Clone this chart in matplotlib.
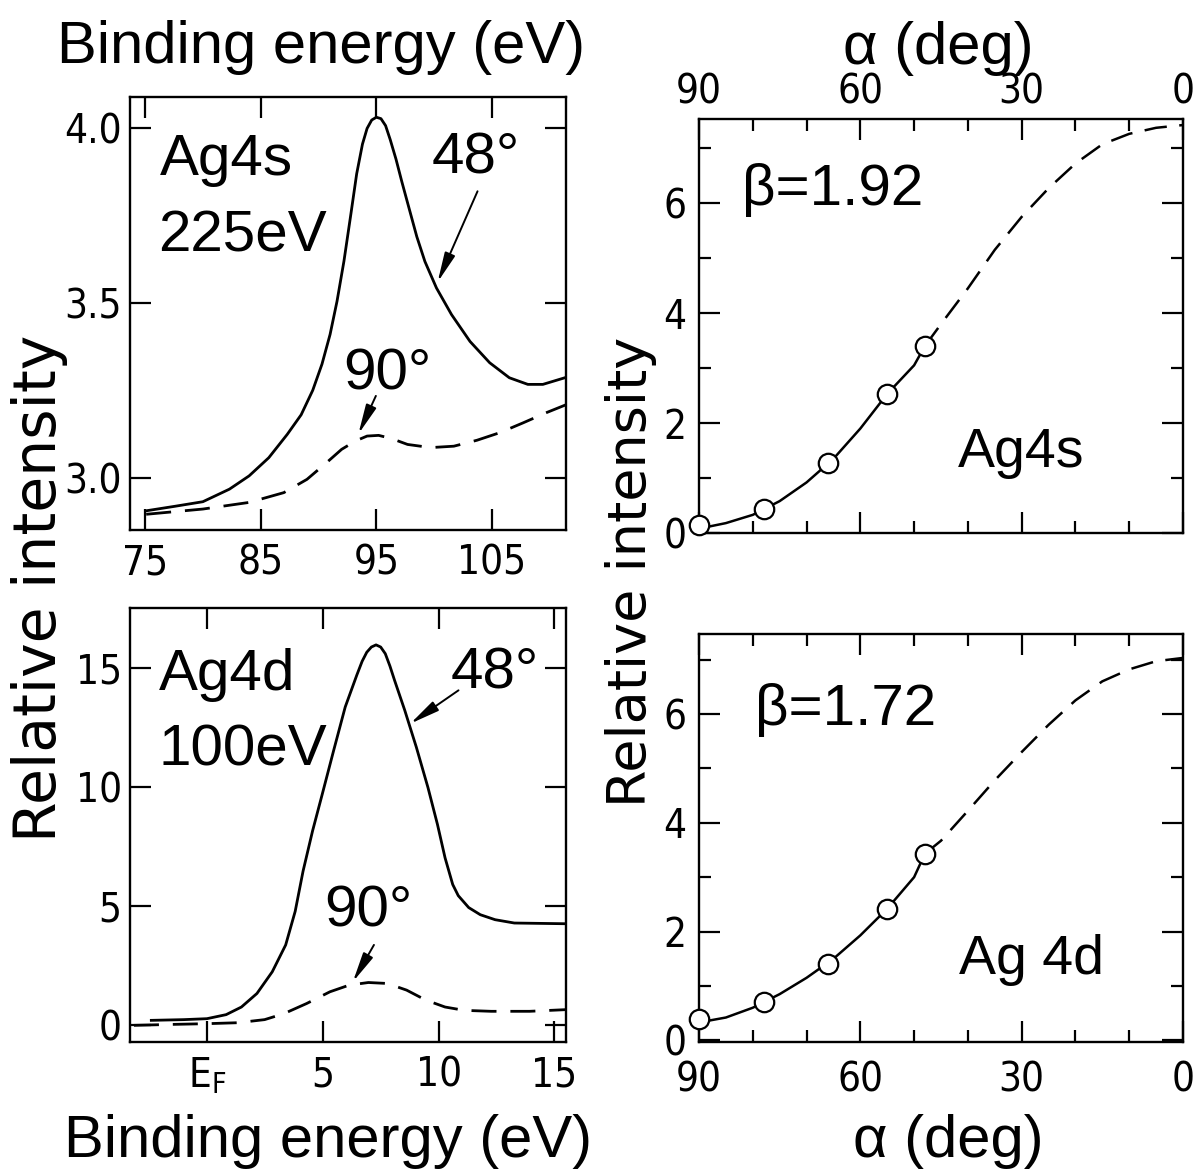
import matplotlib
matplotlib.use('Agg')
import matplotlib.pyplot as plt
from matplotlib.ticker import FixedLocator

plt.rcParams['font.family'] = ['DejaVu Sans']
plt.rcParams['font.stretch'] = 'condensed'

# ---------------- data ----------------
# Ag 4s spectra, 225 eV
be_4s_48 = [75.1, 77.6, 80.0, 82.3, 84.0, 85.7, 87.3, 88.5, 89.5, 90.3, 91.0, 91.6, 92.2,
            92.8, 93.3, 93.8, 94.2, 94.6, 95.0, 95.4, 95.8, 96.2, 96.7, 97.2, 97.8, 98.5,
            99.2, 100.2, 101.5, 103.1, 104.8, 106.5, 108.1, 109.4, 111.3]
int_4s_48 = [2.905, 2.918, 2.931, 2.967, 3.005, 3.057, 3.124, 3.18, 3.25, 3.325, 3.41, 3.505,
             3.62, 3.755, 3.87, 3.955, 4.0, 4.024, 4.032, 4.028, 4.008, 3.968, 3.912, 3.848,
             3.775, 3.69, 3.619, 3.543, 3.467, 3.39, 3.329, 3.286, 3.267, 3.267, 3.286]
be_4s_90 = [75.1, 80.0, 84.0, 87.0, 89.0, 90.7, 92.0, 93.2, 94.2, 95.2, 96.3, 97.7, 99.7,
            101.7, 103.7, 105.7, 107.7, 109.7, 111.5]
int_4s_90 = [2.895, 2.91, 2.929, 2.957, 2.995, 3.043, 3.081, 3.105, 3.119, 3.121, 3.112, 3.095,
             3.086, 3.09, 3.107, 3.129, 3.157, 3.186, 3.21]

# Ag 4d spectra, 100 eV
be_4d_48 = [-2.4, -1.0, 0.0, 0.83, 1.49, 2.16, 2.82, 3.4, 3.81, 4.15, 4.56, 4.98, 5.47, 5.97,
            6.47, 6.7, 6.9, 7.1, 7.3, 7.5, 7.7, 7.9, 8.1, 8.54, 9.04, 9.54, 9.95, 10.28,
            10.61, 10.85, 11.3, 11.8, 12.44, 13.27, 15.5]
int_4d_48 = [0.21, 0.24, 0.28, 0.45, 0.77, 1.34, 2.25, 3.38, 4.79, 6.48, 8.17, 9.72, 11.55,
             13.38, 14.72, 15.3, 15.68, 15.9, 15.99, 15.9, 15.62, 15.1, 14.5, 13.24, 11.69,
             10.0, 8.45, 7.04, 5.92, 5.45, 4.95, 4.65, 4.44, 4.30, 4.27]
be_4d_90 = [-3.15, -1.49, 0.0, 1.33, 2.49, 3.32, 4.31, 5.31, 6.14, 6.97, 7.79, 8.62, 9.45,
            10.28, 11.11, 12.27, 13.93, 15.5]
int_4d_90 = [0.0, 0.04, 0.07, 0.11, 0.24, 0.49, 0.92, 1.41, 1.69, 1.80, 1.76, 1.48, 1.06,
             0.77, 0.63, 0.59, 0.59, 0.66]

# angular dependence
alpha_pts = [90, 78, 66, 55, 48]
i4s_pts = [0.14, 0.43, 1.27, 2.53, 3.40]
i4d_pts = [0.40, 0.71, 1.41, 2.42, 3.43]

alpha_fit_solid = [90, 85, 80, 75, 70, 65, 60, 55, 50, 48]
i4s_fit_solid = [0.08, 0.18, 0.33, 0.58, 0.92, 1.35, 1.90, 2.53, 3.05, 3.40]
i4d_fit_solid = [0.33, 0.42, 0.60, 0.85, 1.15, 1.50, 1.93, 2.42, 3.00, 3.43]
alpha_fit_dash = [48, 45, 40, 35, 30, 25, 20, 15, 10, 5, 0]
i4s_fit_dash = [3.40, 3.80, 4.45, 5.15, 5.75, 6.27, 6.72, 7.07, 7.26, 7.37, 7.42]
i4d_fit_dash = [3.43, 3.67, 4.22, 4.78, 5.30, 5.80, 6.25, 6.60, 6.82, 6.97, 7.03]

xt_4s = [75, 85, 95, 105]
xt_4s_lab = ['75', '85', '95', '105']
yt_4s = [3.0, 3.5, 4.0]
yt_4s_lab = ['3.0', '3.5', '4.0']
xt_4d = [0, 5, 10, 15]
xt_4d_lab = [r'$\mathregular{E_F}$', '5', '10', '15']
yt_4d = [0, 5, 10, 15]
yt_4d_lab = ['0', '5', '10', '15']
xt_ang = [90, 60, 30, 0]
xt_ang_lab = ['90', '60', '30', '0']
yt_ang = [0, 2, 4, 6]
yt_ang_lab = ['0', '2', '4', '6']

# ---------------- figure ----------------
W, H = 1197, 1170
fig = plt.figure(figsize=(W / 100, H / 100), dpi=100)
fig.patch.set_facecolor('white')


def px_axes(x0, y0, x1, y1):
    return fig.add_axes([x0 / W, 1 - y1 / H, (x1 - x0) / W, (y1 - y0) / H])


ax1 = px_axes(130, 97, 566, 530)
ax2 = px_axes(130, 608, 566, 1042)
ax3 = px_axes(699, 119, 1183, 533)
ax4 = px_axes(699, 634, 1183, 1042)

BIG = dict(family='Liberation Sans', stretch='normal')
LW = 2.0
DASH = (0, (9, 5))
TICKFS = 29

for ax in (ax1, ax2, ax3, ax4):
    for s in ax.spines.values():
        s.set_linewidth(1.7)
    ax.tick_params(which='both', direction='in', top=True, right=True, width=1.6,
                   labelsize=TICKFS)
    ax.tick_params(which='major', length=15)
    ax.tick_params(which='minor', length=8.5)

arrow = dict(arrowstyle='-|>,head_length=1.8,head_width=0.33', color='k', lw=1.4,
             shrinkA=0, shrinkB=0)

# ---- top-left: Ag 4s spectra ----
ax1.plot(be_4s_48, int_4s_48, color='k', lw=LW)
ax1.plot(be_4s_90, int_4s_90, color='k', lw=LW, linestyle=DASH)
ax1.set_xlim(73.7, 111.4)
ax1.set_ylim(2.85, 4.09)
ax1.set_xticks(xt_4s, xt_4s_lab)
ax1.set_yticks(yt_4s, yt_4s_lab)
ax1.tick_params(axis='x', pad=10)
ax1.tick_params(axis='y', pad=6)
ax1.text(0.069, 0.82, 'Ag4s', transform=ax1.transAxes, fontsize=42, **BIG,
         ha='left', va='baseline')
ax1.text(0.064, 0.644, '225eV', transform=ax1.transAxes, fontsize=42, **BIG,
         ha='left', va='baseline')
ax1.text(0.793, 0.858, '48°', transform=ax1.transAxes, fontsize=42, **BIG,
         ha='center', va='center')
ax1.text(0.59, 0.36, '90°', transform=ax1.transAxes, fontsize=42, **BIG,
         ha='center', va='center')
ax1.annotate('', xy=(100.3, 3.56), xytext=(103.75, 3.82), arrowprops=arrow)
ax1.annotate('', xy=(93.45, 3.125), xytext=(94.96, 3.234), arrowprops=arrow)

# ---- bottom-left: Ag 4d spectra ----
ax2.plot(be_4d_48, int_4d_48, color='k', lw=LW)
ax2.plot(be_4d_90, int_4d_90, color='k', lw=LW, linestyle=DASH)
ax2.set_xlim(-3.32, 15.5)
ax2.set_ylim(-0.70, 17.54)
ax2.set_xticks(xt_4d, xt_4d_lab)
ax2.set_yticks(yt_4d, yt_4d_lab)
ax2.tick_params(axis='x', pad=10)
ax2.tick_params(axis='y', pad=6)
ax2.text(0.066, 0.811, 'Ag4d', transform=ax2.transAxes, fontsize=42, **BIG,
         ha='left', va='baseline')
ax2.text(0.066, 0.637, '100eV', transform=ax2.transAxes, fontsize=42, **BIG,
         ha='left', va='baseline')
ax2.text(0.837, 0.849, '48°', transform=ax2.transAxes, fontsize=42, **BIG,
         ha='center', va='center')
ax2.text(0.546, 0.301, '90°', transform=ax2.transAxes, fontsize=42, **BIG,
         ha='center', va='center')
ax2.annotate('', xy=(8.78, 12.68), xytext=(10.86, 14.08), arrowprops=arrow)
ax2.annotate('', xy=(6.30, 1.83), xytext=(7.21, 3.38), arrowprops=arrow)

# ---- right panels: angular dependence ----
for ax, ysol, ydash, ypts in ((ax3, i4s_fit_solid, i4s_fit_dash, i4s_pts),
                              (ax4, i4d_fit_solid, i4d_fit_dash, i4d_pts)):
    ax.plot(alpha_fit_solid, ysol, color='k', lw=1.8)
    ax.plot(alpha_fit_dash, ydash, color='k', lw=1.8, linestyle=DASH)
    ax.plot(alpha_pts, ypts, linestyle='none', marker='o', markersize=14,
            markerfacecolor='white', markeredgecolor='k', markeredgewidth=1.6,
            clip_on=False, zorder=5)
    ax.set_xlim(90, 0)
    ax.xaxis.set_major_locator(FixedLocator(xt_ang))
    ax.set_xticklabels(xt_ang_lab)
    ax.xaxis.set_minor_locator(FixedLocator(list(range(0, 91, 10))))
    ax.yaxis.set_major_locator(FixedLocator(yt_ang))
    ax.set_yticklabels(yt_ang_lab)
    ax.yaxis.set_minor_locator(FixedLocator([1, 3, 5, 7]))
    ax.tick_params(axis='y', pad=9)

ax3.set_ylim(0, 7.53)
ax4.set_ylim(-0.03, 7.47)
ax3.tick_params(axis='x', labelbottom=False, labeltop=True, pad=5)
ax4.tick_params(axis='x', pad=13)

ax3.text(0.088, 0.792, 'β=1.92', transform=ax3.transAxes, fontsize=42, **BIG,
         ha='left', va='baseline')
ax3.text(0.534, 0.159, 'Ag4s', transform=ax3.transAxes, fontsize=40, **BIG,
         ha='left', va='baseline')
ax4.text(0.116, 0.776, 'β=1.72', transform=ax4.transAxes, fontsize=42, **BIG,
         ha='left', va='baseline')
ax4.text(0.538, 0.166, 'Ag 4d', transform=ax4.transAxes, fontsize=40, **BIG,
         ha='left', va='baseline')

# ---- axis titles ----
fig.text(321 / W, 1 - 63 / H, 'Binding energy (eV)', fontsize=43, **BIG,
         ha='center', va='baseline')
fig.text(938 / W, 1 - 64 / H, 'α (deg)', fontsize=43, **BIG,
         ha='center', va='baseline')
fig.text(328 / W, 1 - 1157 / H, 'Binding energy (eV)', fontsize=43, **BIG,
         ha='center', va='baseline')
fig.text(948 / W, 1 - 1157 / H, 'α (deg)', fontsize=43, **BIG,
         ha='center', va='baseline')
fig.text(40 / W, 1 - 588 / H, 'Relative intensity', fontsize=42, family='DejaVu Sans',
         stretch='normal', rotation=90, ha='center', va='center')
fig.text(631 / W, 1 - 572 / H, 'Relative intensity', fontsize=39, family='DejaVu Sans',
         stretch='normal', rotation=90, ha='center', va='center')

fig.savefig('out.png', dpi=100, facecolor='white')
